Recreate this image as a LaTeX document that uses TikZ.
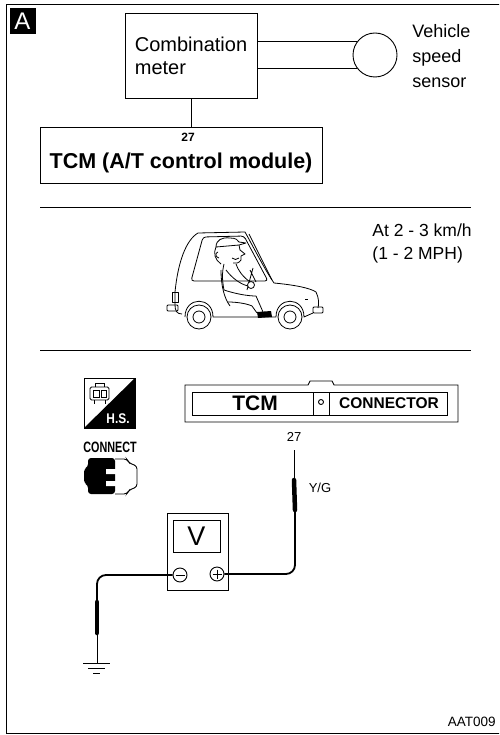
\documentclass[tikz,border=0pt]{standalone}
\usepackage{fontspec}
\setmainfont{Liberation Sans}
\usetikzlibrary{positioning}

\begin{document}
\begin{tikzpicture}[x=1pt,y=-1pt,line width=0.9pt,
  box/.style={draw,rectangle,inner sep=0pt},
  lbl/.style={font=\fontsize{18}{25}\selectfont,align=left,inner sep=0pt},
  pinlbl/.style={font=\bfseries\fontsize{12}{12}\selectfont,inner sep=0pt},
  wire/.style={line width=1.8pt,rounded corners=9pt},
  probe/.style={line width=4.5pt,line cap=round},
  term/.style={draw,circle,minimum size=14pt,inner sep=0pt}]
\useasboundingbox (0,0) rectangle (499,735);
\clip (0,0) rectangle (499,735);
\draw (510,4) -- (6,4) -- (6,733) -- (510,733);
\node[fill=black,text=white,minimum size=26pt,inner sep=0pt,
  font=\fontsize{24}{24}\selectfont] (tag) at (22.5,21) {A};

% block diagram
\node[box,minimum width=132pt,minimum height=85pt,align=left,
  font=\fontsize{20}{23}\selectfont] (meter) at (191,55.5) {Combination\\meter};
\node[draw,circle,minimum size=44pt,inner sep=0pt] (vss) at (375,55) {};
\node[lbl,anchor=west] (vsslbl) at (412,56) {Vehicle\\speed\\sensor};
\draw (meter.east |- vss.144) -- (vss.144);
\draw (meter.east |- vss.216) -- (vss.216);
\node[box,minimum width=282pt,minimum height=56pt] (tcm) at (181,155) {};
\node[pinlbl] (pin) at (188,137) {27};
\node[font=\bfseries\fontsize{21.5}{21.5}\selectfont,inner sep=0pt] (tcmlbl) at (181,163)
  {TCM (A/T control module)};
\draw (meter.south) -- (tcm.north -| meter.south);
\draw (40,207) -- (471,207);
\draw (40,350) -- (471,350);

% car with driver
\node[lbl,anchor=north west,font=\fontsize{17.5}{23}\selectfont] (speed) at (372,223)
  {At 2 - 3 km/h\\(1 - 2 MPH)};
\begin{scope}[line width=0.8pt,line join=round]
\draw (182,314) .. controls (177,314) and (175,311) .. (175,305) -- (175,292)
  .. controls (178,262) and (186,240) .. (198,233) -- (245,232)
  .. controls (255,250) and (265,270) .. (274,283)
  .. controls (295,285) and (310,288) .. (316,292)
  .. controls (319,298) and (319,304) .. (318,308);
\draw (185,317) .. controls (185,296) and (213,296) .. (213,317) -- (276,317)
  .. controls (276,296) and (304,296) .. (304,317) -- (313,313);
\draw[rounded corners=3pt] (203,237) -- (244,236) -- (268,281) -- (191,281) -- cycle;
\draw (249,234) -- (272,280);
\draw (172,292) rectangle (178,302);
\draw[rounded corners=1pt] (167,305) rectangle (178,311);
\draw[rounded corners=1pt] (313,307) rectangle (323,313);
\draw (305,299) -- (308,299);
\foreach \wx in {199,290} {
  \draw[fill=white] (\wx,317) circle (12);
  \draw (\wx,317) circle (6);
}
% driver
\draw[fill=white] (216,247) .. controls (216,240) and (222,237) .. (230,238)
  .. controls (236,238) and (238,240) .. (239,242) -- (246,243) -- (239,245) -- (216,247) -- cycle;
\draw (216,247) .. controls (213,253) and (215,260) .. (221,264);
\draw (218,252) .. controls (215,253) and (215,257) .. (219,258);
\draw (239,245) -- (240,250) -- (245,254) -- (241,256) -- (241,260)
  .. controls (239,263) and (236,264) .. (233,263);
\draw (232,258) .. controls (234,260) and (237,260) .. (239,258);
\draw (224,264) .. controls (222,272) and (222,280) .. (224,290);
\draw (236,264) .. controls (238,270) and (242,276) .. (250,282);
\draw (226,270) .. controls (232,278) and (240,284) .. (248,286);
\draw (250,270) -- (256,282) (253,268) -- (247,290);
\draw[fill=white] (251,285) circle (3.5);
\draw (224,290) .. controls (236,294) and (248,296) .. (256,296) -- (263,312);
\draw (228,302) .. controls (238,302) and (248,304) .. (252,306) -- (257,313);
\draw (221,270) .. controls (221,285) and (224,298) .. (230,306);
\fill (257,312) -- (271,311) -- (272,317) -- (258,318) -- cycle;
\end{scope}

% tool icons
\draw (84,378) rectangle (135,428);
\fill (84,428) -- (135,378) -- (135,428) -- cycle;
\node[text=white,font=\bfseries\fontsize{14}{14}\selectfont,inner sep=0pt] (hs) at (118,419)
  {\scalebox{0.85}[1]{H.S.}};
\draw[line width=0.8pt,rounded corners=1.5pt] (90,387) rectangle (109,400);
\draw[line width=0.8pt] (95,387) -- (95,383) -- (104,383) -- (104,387);
\draw[line width=0.8pt] (93,390) rectangle (99,397) (101,390) rectangle (106,397);
\draw[line width=0.8pt] (94,400) -- (94,404) (105,400) -- (105,404);
\node[font=\bfseries\fontsize{15}{15}\selectfont,inner sep=0pt] (connect) at (110,447)
  {\scalebox{0.72}[1]{CONNECT}};
\fill[rounded corners=3pt] (88,458) -- (115,458) -- (115,494) -- (88,494) -- (88,485)
  -- (84,483) -- (84,469) -- (88,467) -- cycle;
\fill[white] (106,469) rectangle (116,474) (106,481) rectangle (116,486);
\draw[rounded corners=3pt] (115,459) -- (127,459) -- (129,463) -- (137,466) -- (137,487)
  -- (129,490) -- (127,494) -- (115,494);

% TCM connector
\draw (185,385) -- (308,385) -- (310,381) -- (332,381) -- (334,385) -- (458,385)
  -- (458,422) -- (185,422) -- cycle;
\draw (192,392) rectangle (447,415);
\draw (313,392) rectangle (329,415);
\draw (321,402) circle (2.5);
\node[font=\bfseries\fontsize{21}{21}\selectfont,inner sep=0pt] (conntcm) at (255,403) {TCM};
\node[font=\bfseries\fontsize{15.5}{15.5}\selectfont,inner sep=0pt] (connlbl) at (389,403)
  {CONNECTOR};

% voltmeter and probes
\node[pinlbl,font=\fontsize{13}{13}\selectfont] (pin27) at (294,437) {27};
\node[font=\fontsize{13}{13}\selectfont,inner sep=0pt] (yg) at (320,488) {Y/G};
\node[box,minimum width=61pt,minimum height=77pt] (vm) at (197.5,551.5) {};
\node[box,minimum width=47pt,minimum height=32pt,font=\fontsize{27}{27}\selectfont]
  (disp) at (196.5,536) {V};
\node[term] (minus) at (180,575) {};
\node[term] (plus) at (217,574) {};
\draw (minus.center) +(-4.5,0) -- +(4.5,0);
\draw (plus.center) +(-4.5,0) -- +(4.5,0) (plus.center) +(0,-4.5) -- +(0,4.5);
\coordinate (tipA) at (294,450);
\coordinate (tipB) at (97,663);
\draw (tipA) -- (294,478);
\draw[probe] (294,480) -- (295,510);
\draw[wire] (295,510) -- (295,574) -- (plus.east);
\draw[wire] (minus.west) -- (97,575) -- (97,601);
\draw[probe] (97,602) -- (97,633);
\draw (97,633) -- (tipB);
\draw (tipB) ++(-14,0) -- ++(27,0);
\draw (tipB) ++(-9,5) -- ++(17,0);
\draw (tipB) ++(-4,10) -- ++(7,0);

\node[font=\fontsize{13.5}{13.5}\selectfont,anchor=east,inner sep=0pt] (code) at (496,722)
  {AAT009};
\end{tikzpicture}
\end{document}
